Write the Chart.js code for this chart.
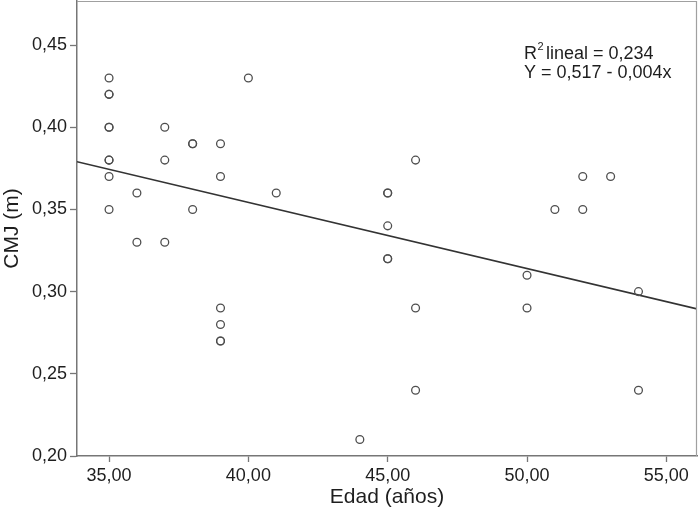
<!DOCTYPE html>
<html>
<head>
<meta charset="utf-8">
<script src="https://cdn.jsdelivr.net/npm/chart.js@4/dist/chart.umd.min.js"></script>
<style>
  html, body { margin: 0; padding: 0; background: #fff; }
  #wrap { width: 700px; height: 517px; }
</style>
</head>
<body>
<div id="wrap"><canvas id="cmj-chart" width="700" height="517"></canvas></div>
<script>
// age (years) and CMJ jump height (m)
const edad = [35, 35, 35, 35, 35, 35, 35, 35, 35,
  36, 36, 37, 37, 37, 38, 38, 38,
  39, 39, 39, 39, 39, 39, 40, 41, 44,
  45, 45, 45, 45, 45, 46, 46, 46,
  50, 50, 51, 52, 52, 53, 54, 54]
const cmj = [0.43, 0.42, 0.42, 0.40, 0.40, 0.38, 0.38, 0.37, 0.35,
  0.36, 0.33, 0.40, 0.38, 0.33, 0.39, 0.39, 0.35,
  0.39, 0.37, 0.29, 0.28, 0.27, 0.27, 0.43, 0.36, 0.21,
  0.36, 0.36, 0.34, 0.32, 0.32, 0.38, 0.29, 0.24,
  0.31, 0.29, 0.35, 0.37, 0.35, 0.37, 0.30, 0.24]

// fitted line, ends read at the plot edges
const fitX = [33.85, 56.1]
const fitY = [0.379, 0.2895]

const xTicks = [35, 40, 45, 50, 55]
const yTicks = [0.20, 0.25, 0.30, 0.35, 0.40, 0.45]

const fontFam = '"Liberation Sans", Arial, Helvetica, sans-serif'
const axisGray = '#767676'

const points = edad.map((e, i) => ({ x: e, y: cmj[i] }))
const fitLine = fitX.map((v, i) => ({ x: v, y: fitY[i] }))

const comma = (v) => v.toFixed(2).replace('.', ',')

// frame on top/right and the R2 text box
const framePlugin = {
  id: 'frame',
  afterDraw(chart) {
    const { ctx, chartArea: a } = chart
    ctx.save()
    ctx.strokeStyle = '#a0a0a0'
    ctx.lineWidth = 1.2
    ctx.beginPath()
    ctx.moveTo(a.left, a.top + 0.5)
    ctx.lineTo(a.right - 0.5, a.top + 0.5)
    ctx.lineTo(a.right - 0.5, a.bottom)
    ctx.stroke()

    ctx.fillStyle = '#1e1e1e'
    ctx.textBaseline = 'middle'
    ctx.font = '18px ' + fontFam
    const tx = a.left + 447
    ctx.fillText('R', tx, a.top + 53)
    const rw = ctx.measureText('R').width
    ctx.font = '11px ' + fontFam
    ctx.fillText('2', tx + rw + 0.5, a.top + 46)
    ctx.font = '18px ' + fontFam
    ctx.fillText(' lineal = 0,234', tx + rw + 4, a.top + 53)
    ctx.fillText('Y = 0,517 - 0,004x', tx, a.top + 72)
    ctx.restore()
  },
}

const config = {
  type: 'scatter',
  data: {
    datasets: [
      {
        label: 'CMJ',
        data: points,
        pointRadius: 3.9,
        pointBorderWidth: 1.3,
        pointBorderColor: '#4e4e4e',
        pointBackgroundColor: 'rgba(255,255,255,0)',
        pointHoverRadius: 3.9,
      },
      {
        type: 'line',
        label: 'ajuste',
        data: fitLine,
        borderColor: '#333',
        borderWidth: 1.6,
        pointRadius: 0,
        fill: false,
      },
    ],
  },
  options: {
    responsive: false,
    animation: false,
    layout: { autoPadding: false, padding: { top: 1, right: 3, left: 0, bottom: 0 } },
    plugins: {
      legend: { display: false },
      tooltip: { enabled: false },
    },
    scales: {
      x: {
        type: 'linear',
        min: 33.85,
        max: 56.1,
        afterBuildTicks: (s) => { s.ticks = xTicks.map((v) => ({ value: v })) },
        afterFit: (s) => { s.height = 61; s.paddingLeft = 0; s.paddingRight = 0 },
        border: { color: axisGray, width: 1.5 },
        grid: { drawOnChartArea: false, drawTicks: true, tickLength: 6, color: axisGray, tickWidth: 1.3 },
        ticks: {
          color: '#1e1e1e',
          padding: 3,
          maxRotation: 0,
          font: { family: fontFam, size: 18 },
          callback: (v) => comma(v),
        },
        title: {
          display: true,
          text: 'Edad (años)',
          color: '#1e1e1e',
          font: { family: fontFam, size: 21 },
          padding: { top: 0, bottom: 7 },
        },
      },
      y: {
        type: 'linear',
        min: 0.20,
        max: 0.4768,
        afterBuildTicks: (s) => { s.ticks = yTicks.map((v) => ({ value: v })) },
        afterFit: (s) => { s.width = 77; s.paddingTop = 0; s.paddingBottom = 0 },
        border: { color: axisGray, width: 1.5 },
        grid: { drawOnChartArea: false, drawTicks: true, tickLength: 7, color: axisGray, tickWidth: 1.3 },
        ticks: {
          color: '#1e1e1e',
          padding: 3,
          font: { family: fontFam, size: 18 },
          callback: (v) => comma(v),
        },
        title: {
          display: true,
          text: 'CMJ (m)',
          color: '#1e1e1e',
          font: { family: fontFam, size: 21 },
          padding: { top: 0, bottom: 0 },
        },
      },
    },
  },
  plugins: [framePlugin],
}

new Chart(document.querySelector('#cmj-chart'), config)
</script>
</body>
</html>
